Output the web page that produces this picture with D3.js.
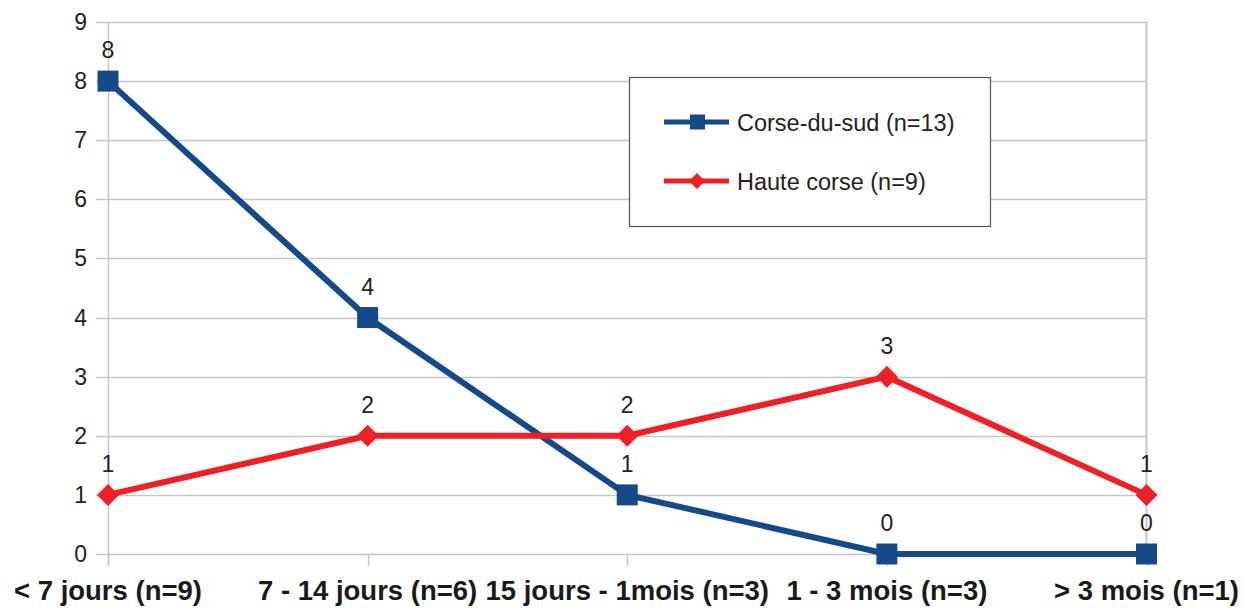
<!DOCTYPE html>
<html><head><meta charset="utf-8">
<script src="https://cdn.jsdelivr.net/npm/d3@7"></script>
<style>html,body{margin:0;padding:0;background:#fff;}svg{display:block;font-family:"Liberation Sans",Arial,sans-serif;}</style>
</head><body>
<svg id="chart" width="1244" height="608"></svg>
<script>
const categories = ["< 7 jours (n=9)", "7 - 14 jours (n=6)", "15 jours - 1mois (n=3)", "1 - 3 mois (n=3)", "> 3 mois (n=1)"];
const corseDuSud = [8, 4, 1, 0, 0];
const hauteCorse = [1, 2, 2, 3, 1];
const seriesNames = ["Corse-du-sud (n=13)", "Haute corse (n=9)"];
const yTicks = [0, 1, 2, 3, 4, 5, 6, 7, 8, 9];

const blue = "#154a8a", red = "#ee1f25", grid = "#c6c6c6";
const svg = d3.select("#chart");
const x = d3.scalePoint().domain(categories).range([108, 1146.5]);
const y = d3.scaleLinear().domain([0, 9]).range([554, 22]);

// horizontal gridlines
svg.append("g").selectAll("line").data(yTicks).join("line")
  .attr("x1", 96).attr("x2", 1146.5)
  .attr("y1", d => Math.round(y(d)) + 0.5).attr("y2", d => Math.round(y(d)) + 0.5)
  .attr("stroke", grid).attr("stroke-width", 1.5);
// y axis and right border
svg.append("line").attr("x1", 108.5).attr("x2", 108.5).attr("y1", 22).attr("y2", 566).attr("stroke", grid).attr("stroke-width", 1.5);
svg.append("line").attr("x1", 1146.5).attr("x2", 1146.5).attr("y1", 22).attr("y2", 554).attr("stroke", grid).attr("stroke-width", 2);
// x ticks
svg.append("g").selectAll("line").data(categories).join("line")
  .attr("x1", d => Math.round(x(d)) + 0.5).attr("x2", d => Math.round(x(d)) + 0.5)
  .attr("y1", 554).attr("y2", 566).attr("stroke", grid).attr("stroke-width", 1.5);

// y tick labels
svg.append("g").selectAll("text").data(yTicks).join("text")
  .attr("x", 87).attr("y", d => y(d) + 8).attr("text-anchor", "end")
  .attr("font-size", 23).attr("fill", "#222").text(d => d);

// x labels
svg.append("g").selectAll("text").data(categories).join("text")
  .attr("x", d => x(d)).attr("y", 600).attr("text-anchor", "middle")
  .attr("font-size", 27.5).attr("font-weight", "bold").attr("fill", "#1a1a1a").text(d => d);

const line = d3.line().x((d, i) => x(categories[i])).y(d => y(d));

// blue series
svg.append("path").datum(corseDuSud).attr("d", line).attr("fill", "none")
  .attr("stroke", blue).attr("stroke-width", 6).attr("stroke-linejoin", "miter");
svg.append("g").selectAll("rect").data(corseDuSud).join("rect")
  .attr("x", (d, i) => x(categories[i]) - 10.5).attr("y", d => y(d) - 10.5)
  .attr("width", 21).attr("height", 21).attr("fill", blue);
// red series
svg.append("path").datum(hauteCorse).attr("d", line).attr("fill", "none")
  .attr("stroke", red).attr("stroke-width", 6).attr("stroke-linejoin", "miter");
svg.append("g").selectAll("path.dm").data(hauteCorse).join("path")
  .attr("transform", (d, i) => `translate(${x(categories[i])},${y(d)})`)
  .attr("d", "M0,-11L11,0L0,11L-11,0Z").attr("fill", red);

// data labels
const labels = (arr) => svg.append("g").selectAll("text").data(arr).join("text")
  .attr("x", (d, i) => x(categories[i])).attr("y", d => y(d) - 23)
  .attr("text-anchor", "middle").attr("font-size", 23).attr("fill", "#222").text(d => d);
labels(corseDuSud);
labels(hauteCorse);

// legend
const lg = svg.append("g");
lg.append("rect").attr("x", 629.5).attr("y", 77.5).attr("width", 361).attr("height", 149)
  .attr("fill", "#fff").attr("stroke", "#555").attr("stroke-width", 1.2);
const rows = [{name: seriesNames[0], color: blue, shape: "square", yy: 122},
              {name: seriesNames[1], color: red, shape: "diamond", yy: 181}];
rows.forEach(r => {
  lg.append("line").attr("x1", 664).attr("x2", 729).attr("y1", r.yy).attr("y2", r.yy)
    .attr("stroke", r.color).attr("stroke-width", 5);
  if (r.shape === "square") {
    lg.append("rect").attr("x", 690).attr("y", r.yy - 7.5).attr("width", 15).attr("height", 15).attr("fill", r.color);
  } else {
    lg.append("path").attr("transform", `translate(697,${r.yy})`).attr("d", "M0,-8L8,0L0,8L-8,0Z").attr("fill", r.color);
  }
  lg.append("text").attr("x", 737).attr("y", r.yy + 8.5).attr("font-size", 23.5).attr("fill", "#222").text(r.name);
});
</script>
</body></html>
